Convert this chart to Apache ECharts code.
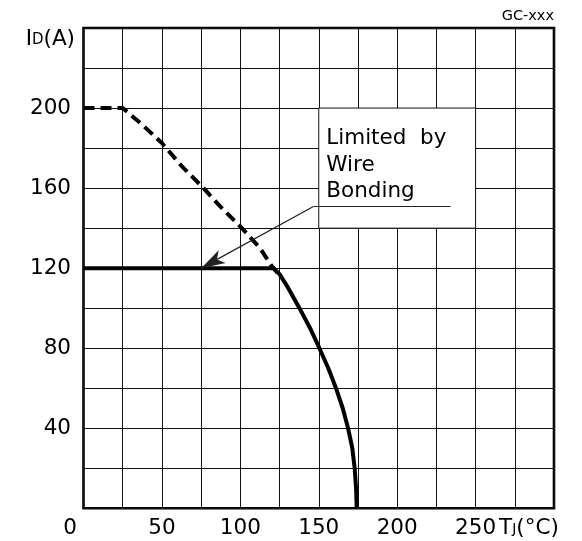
<!DOCTYPE html>
<html><head><meta charset="utf-8">
<script src="https://cdn.jsdelivr.net/npm/echarts@6/dist/echarts.min.js"></script>
<style>html,body{margin:0;padding:0;background:#fff}#c{width:582px;height:541px}</style>
</head><body><div id="c"></div>
<script>
// ---- data ----
const xTickLabels = [0, 50, 100, 150, 200, 250];
const yTickLabels = [40, 80, 120, 160, 200];
const dashedLimit = [[0,200],[25,200],[37,192],[50,182.5],[62.6,171],[76.5,160],[87,151],[101,140],[112.6,130],[120,121],[124,117.5]];
const solidLimit = [[0,120],[121,120],[125,117],[130.6,110],[137.7,100],[144.5,90],[150.4,80],[156.1,70],[161,60],[165.3,50],[168.7,40],[171.4,30],[172.9,20],[173.8,10],[174.2,0]];
const noteBox = [[150,200],[250,140]];
const leaderLine = [[234,150.8],[146.6,150.8],[75,120]];
const noteText = 'Limited  by\nWire\nBonding';
const xName = '{t|T}{s|J}{t|(°C)}';
const yName = '{t|I}{s|D}{t|(A)}';
const cornerTag = 'GC-xxx';

const FONT = 'DejaVu Sans';
const FS = 21.5;
const chart = echarts.init(document.getElementById('c'), null, {renderer: 'canvas'});
chart.setOption({
  animation: false,
  backgroundColor: '#fff',
  textStyle: {fontFamily: FONT, color: '#000'},
  title: {text: cornerTag, right: 28, top: 9, padding: 0,
    textStyle: {fontFamily: FONT, fontSize: 14.5, fontWeight: 'normal', color: '#000'}},
  grid: {left: 83.5, right: 28, top: 28, bottom: 32.7, show: true, borderColor: '#000', borderWidth: 2.6, containLabel: false, outerBoundsMode: 'none'},
  xAxis: {
    type: 'value', min: 0, max: 300, interval: 25,
    axisLine: {show: false}, axisTick: {show: false},
    splitLine: {show: true, lineStyle: {color: '#111', width: 1}},
    axisLabel: {
      margin: 9, fontSize: FS, color: '#000', fontFamily: FONT, verticalAlign: 'top',
      formatter: v => v === 0 ? '{z|0}' : (xTickLabels.includes(v) ? String(v) : ''),
      rich: {z: {padding: [0, 27, 0, 0], fontSize: FS, fontFamily: FONT, color: '#000'}}
    },
    name: xName, nameLocation: 'end', nameGap: -55, nameMoveOverlap: false,
    nameTextStyle: {align: 'left', verticalAlign: 'top', padding: [9, 0, 0, 0], color: '#000',
      rich: {t: {fontSize: FS, fontFamily: FONT, color: '#000'}, s: {fontSize: 14, fontFamily: FONT, color: '#000', padding: [3, 0, 0, 0]}}}
  },
  yAxis: {
    type: 'value', min: 0, max: 240, interval: 20,
    axisLine: {show: false}, axisTick: {show: false},
    splitLine: {show: true, lineStyle: {color: '#111', width: 1}},
    axisLabel: {
      margin: 12.5, fontSize: FS, color: '#000', fontFamily: FONT,
      formatter: v => yTickLabels.includes(v) ? String(v) : ''
    },
    name: yName, nameLocation: 'end', nameGap: -11, nameMoveOverlap: false,
    nameTextStyle: {align: 'right', verticalAlign: 'middle', padding: [0, 8.5, 0, 0], color: '#000',
      rich: {t: {fontSize: FS, fontFamily: FONT, color: '#000'}, s: {fontSize: 15, fontFamily: FONT, color: '#000', padding: [3, 0, 0, 0]}}}
  },
  series: [
    {
      type: 'line', data: dashedLimit, showSymbol: false, symbol: 'none', z: 3,
      lineStyle: {color: '#000', width: 4, type: [11, 6]}
    },
    {
      type: 'line', data: solidLimit, showSymbol: false, symbol: 'none', z: 4,
      lineStyle: {color: '#000', width: 4},
      markArea: {
        silent: true,
        itemStyle: {color: '#fff', borderColor: '#111', borderWidth: 1, opacity: 1},
        label: {show: true, position: 'insideTopLeft', distance: 0, offset: [8, 18], formatter: noteText,
          fontSize: FS, lineHeight: 26.5, color: '#000', fontFamily: FONT},
        data: [[{coord: noteBox[0]}, {coord: noteBox[1]}]]
      },
      markLine: {
        silent: true, symbol: ['none', 'none'], label: {show: false},
        lineStyle: {color: '#222', width: 1.2, type: 'solid'},
        data: [
          [{coord: leaderLine[0], symbol: 'none'}, {coord: leaderLine[1], symbol: 'none'}],
          [{coord: leaderLine[1], symbol: 'none'}, {coord: leaderLine[2], symbol: 'arrow', symbolSize: [11, 24]}]
        ]
      }
    }
  ]
});
</script></body></html>
